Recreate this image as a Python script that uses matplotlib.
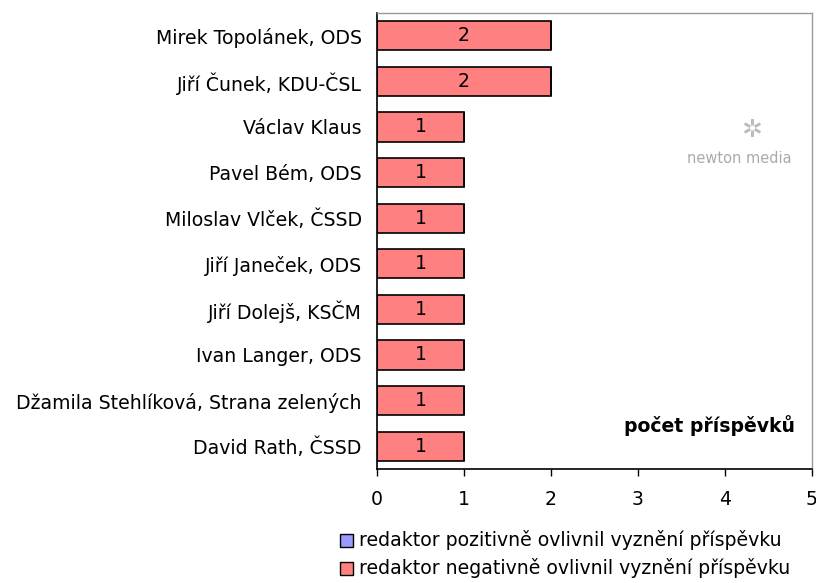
import matplotlib
matplotlib.use("Agg")
import matplotlib.pyplot as plt
from matplotlib.patches import Rectangle

plt.rcParams['font.family'] = ['DejaVu Sans']

names = ["Mirek Topolánek, ODS", "Jiří Čunek, KDU-ČSL", "Václav Klaus", "Pavel Bém, ODS",
         "Miloslav Vlček, ČSSD", "Jiří Janeček, ODS", "Jiří Dolejš, KSČM", "Ivan Langer, ODS",
         "Džamila Stehlíková, Strana zelených", "David Rath, ČSSD"]
negative = [2, 2, 1, 1, 1, 1, 1, 1, 1, 1]
positive = [0, 0, 0, 0, 0, 0, 0, 0, 0, 0]
xticks = [0, 1, 2, 3, 4, 5]
legend_labels = ["redaktor pozitivně ovlivnil vyznění příspěvku",
                 "redaktor negativně ovlivnil vyznění příspěvku"]
axis_label = "počet příspěvků"

W, H = 816, 583
fig = plt.figure(figsize=(W/100, H/100), dpi=100)
ax = fig.add_axes([377/W, 1-469/H, (812-377)/W, (469-13)/H])

pos_color = "#9999FF"
neg_color = "#FF8080"
fs = 13.6

y = list(range(len(names)))
bars = ax.barh(y, negative, height=0.64, color=neg_color, edgecolor="black", linewidth=1.2)
ax.barh(y, positive, left=negative, height=0.64, color=pos_color, edgecolor="black", linewidth=1.2)
for b, v in zip(bars, negative):
    ax.text(b.get_x()+b.get_width()/2, b.get_y()+b.get_height()/2, str(v),
            ha="center", va="center", fontsize=fs)

ax.set_ylim(len(names)-0.5, -0.5)
ax.set_xlim(0, 5)
ax.set_xticks(xticks)
ax.set_xticklabels([str(t) for t in xticks], fontsize=fs)
ax.set_yticks(y)
ax.set_yticklabels(names, fontsize=fs)
ax.tick_params(axis="y", length=0, pad=11)
ax.tick_params(axis="x", length=5, direction="out", pad=10, width=1)
for s in ["top", "right"]:
    ax.spines[s].set_color("#999999")
    ax.spines[s].set_linewidth(1)
for s in ["left", "bottom"]:
    ax.spines[s].set_color("black")
    ax.spines[s].set_linewidth(1.2)

ax.text(0.962, 0.096, axis_label, transform=ax.transAxes, ha="right", va="center",
        fontsize=fs, fontweight="bold")

# watermark
fig.text(739/W, 1-158/H, "newton media", ha="center", va="center", fontsize=10.5,
         color="#aaaaaa")
fig.text(752/W, 1-130/H, "✲", ha="center", va="center", fontsize=18, color="#bbbbbb")

# legend
for i, (lab, col) in enumerate(zip(legend_labels, [pos_color, neg_color])):
    yc = 540 + i*28
    fig.patches.append(Rectangle((340/W, 1-(yc+7)/H), 13/W, 13/H, transform=fig.transFigure,
                                 facecolor=col, edgecolor="black", linewidth=1))
    fig.text(359/W, 1-yc/H, lab, ha="left", va="center", fontsize=fs)

fig.savefig("out.png", dpi=100)
